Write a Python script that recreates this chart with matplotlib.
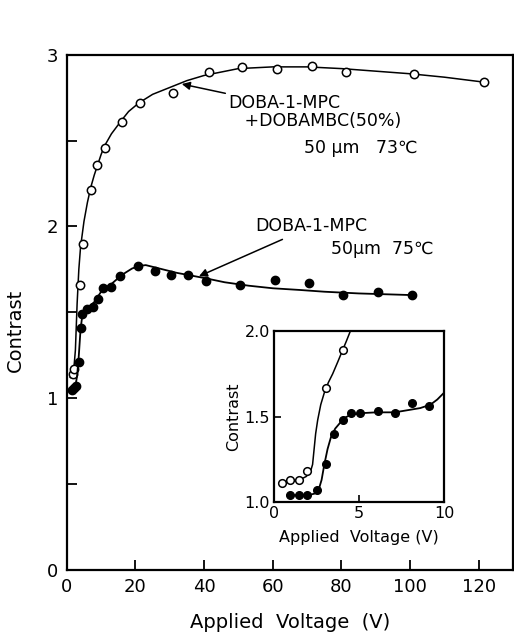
"""Contrast vs applied voltage for DOBA-1-MPC and its DOBAMBC mixture, with low-voltage inset."""
import matplotlib
matplotlib.use("Agg")
import matplotlib.pyplot as plt

# main panel, open circles: DOBA-1-MPC + DOBAMBC (50%), 50 um, 73 C
mix_v = [1.7, 2.1, 3.8, 4.6, 6.9, 8.9, 11.2, 16.2, 21.3, 30.9, 41.3, 51.1, 61.3, 71.5, 81.4, 101.3, 121.7]
mix_c = [1.14, 1.17, 1.66, 1.90, 2.21, 2.36, 2.46, 2.61, 2.72, 2.78, 2.90, 2.93, 2.92, 2.935, 2.90, 2.89, 2.84]
# hand-drawn trend line through them
mix_fit_v = [1.0, 2.0, 2.5, 3.0, 3.5, 4.0, 5.0, 6.0, 7.0, 8.0, 9.0, 10.0, 11.0, 13.0, 16.0, 18.0, 21.0,
             25.0, 30.0, 35.0, 40.0, 45.0, 50.0, 60.0, 70.0, 80.0, 90.0, 100.0, 110.0, 122.0]
mix_fit_c = [1.12, 1.16, 1.28, 1.55, 1.75, 1.88, 2.03, 2.14, 2.23, 2.30, 2.36, 2.42, 2.47, 2.54, 2.62, 2.67, 2.72,
             2.77, 2.81, 2.85, 2.88, 2.90, 2.92, 2.93, 2.93, 2.92, 2.905, 2.89, 2.87, 2.84]

# main panel, filled circles: DOBA-1-MPC, 50 um, 75 C
mpc_v = [1.4, 2.0, 2.8, 3.5, 4.1, 4.5, 5.9, 7.7, 9.1, 10.6, 12.8, 15.6, 20.6, 25.6, 30.5, 35.3, 40.5, 50.6, 60.8, 70.5, 80.4, 90.7, 100.6]
mpc_c = [1.05, 1.06, 1.07, 1.21, 1.41, 1.49, 1.52, 1.53, 1.58, 1.64, 1.65, 1.71, 1.77, 1.74, 1.72, 1.72, 1.68, 1.66, 1.69, 1.67, 1.60, 1.62, 1.60]
mpc_fit_v = [1.2, 2.5, 3.0, 3.5, 4.0, 4.5, 5.0, 6.0, 7.0, 8.0, 9.0, 10.0, 11.5, 13.0, 15.0, 17.0, 19.0, 21.0, 23.0,
             25.0, 28.0, 32.0, 36.0, 40.0, 46.0, 53.0, 60.0, 68.0, 75.0, 85.0, 93.0, 101.0]
mpc_fit_c = [1.05, 1.07, 1.13, 1.25, 1.40, 1.48, 1.51, 1.53, 1.54, 1.56, 1.59, 1.62, 1.645, 1.665, 1.70, 1.73, 1.755, 1.77, 1.775,
             1.765, 1.75, 1.73, 1.715, 1.70, 1.675, 1.655, 1.64, 1.63, 1.62, 1.61, 1.605, 1.60]

# inset (0-10 V)
in_mix_v = [0.45, 0.96, 1.5, 1.94, 3.06, 4.04]
in_mix_c = [1.11, 1.13, 1.13, 1.18, 1.67, 1.89]
in_mix_fit_v = [0.4, 1.0, 1.5, 1.9, 2.15, 2.27, 2.35, 2.45, 2.57, 2.75, 2.96, 3.2, 3.45, 3.75, 4.04, 4.25, 4.49]
in_mix_fit_c = [1.11, 1.12, 1.13, 1.15, 1.18, 1.22, 1.30, 1.40, 1.48, 1.57, 1.64, 1.70, 1.75, 1.82, 1.89, 1.94, 2.0]

in_mpc_v = [0.96, 1.5, 1.96, 2.53, 3.06, 3.55, 4.04, 4.53, 5.08, 6.1, 7.1, 8.1, 9.14]
in_mpc_c = [1.04, 1.04, 1.04, 1.07, 1.22, 1.40, 1.48, 1.52, 1.52, 1.53, 1.52, 1.58, 1.56]
in_mpc_fit_v = [0.8, 2.0, 2.4, 2.65, 2.8, 2.96, 3.15, 3.35, 3.6, 3.94, 4.2, 4.5, 5.1, 6.0, 7.1, 8.0, 8.6, 9.2, 9.6, 10.0]
in_mpc_fit_c = [1.04, 1.04, 1.05, 1.08, 1.13, 1.22, 1.31, 1.38, 1.43, 1.47, 1.495, 1.51, 1.52, 1.525, 1.525, 1.54, 1.55, 1.57, 1.60, 1.64]

plt.rcParams["font.family"] = ["DejaVu Sans"]

fig = plt.figure(figsize=(5.14, 6.38), dpi=100)
ax = fig.add_axes([0.130, 0.107, 0.868, 0.807])

ax.plot(mix_fit_v, mix_fit_c, color="black", lw=1.1)
ax.plot(mix_v, mix_c, "o", ms=6, mfc="white", mec="black", mew=1.1)
ax.plot(mpc_fit_v, mpc_fit_c, color="black", lw=1.3)
ax.plot(mpc_v, mpc_c, "o", ms=6, color="black")

ax.set_xlim(0, 130)
ax.set_ylim(0, 3)
ax.set_xticks([0, 20, 40, 60, 80, 100, 120])
ax.set_yticks([0, 1, 2, 3])
ax.set_yticks([0.5, 1.5, 2.5], minor=True)
ax.tick_params(direction="in", length=7, width=1.3, labelsize=13, pad=6)
ax.tick_params(which="minor", direction="in", length=7, width=1.3)
for s in ax.spines.values():
    s.set_linewidth(1.6)
ax.set_xlabel("Applied  Voltage  (V)", fontsize=14, labelpad=12)
ax.set_ylabel("Contrast", fontsize=14)
ax.yaxis.set_label_coords(-0.095, 0.465)

ax.annotate("DOBA-1-MPC\n   +DOBAMBC(50%)", xy=(33.5, 2.83), xytext=(47, 2.665),
            fontsize=12.5, va="center", linespacing=1.0,
            arrowprops=dict(arrowstyle="-|>", color="black", lw=1.1, shrinkA=0, shrinkB=0, mutation_scale=12))
ax.text(69, 2.46, "50 µm   73℃", fontsize=12.5, va="center")
ax.annotate("DOBA-1-MPC", xy=(38.5, 1.71), xytext=(55, 2.0),
            fontsize=12.5, va="center",
            arrowprops=dict(arrowstyle="-|>", color="black", lw=1.1, shrinkA=2, shrinkB=0, mutation_scale=12))
ax.text(77, 1.87, "50µm  75℃", fontsize=12.5, va="center")

# inset
ins = fig.add_axes([0.533, 0.213, 0.331, 0.268])
ins.plot(in_mix_fit_v, in_mix_fit_c, color="black", lw=1.1)
ins.plot(in_mix_v, in_mix_c, "o", ms=5.5, mfc="white", mec="black", mew=1.1)
ins.plot(in_mpc_fit_v, in_mpc_fit_c, color="black", lw=1.3)
ins.plot(in_mpc_v, in_mpc_c, "o", ms=5.5, color="black")
ins.set_xlim(0, 10)
ins.set_ylim(1.0, 2.0)
ins.set_xticks([0, 5, 10])
ins.set_yticks([1.0, 1.5, 2.0])
ins.set_yticklabels(["1.0", "1.5", "2.0"])
ins.tick_params(direction="in", length=5, width=1.2, labelsize=11.5, pad=3)
for s in ins.spines.values():
    s.set_linewidth(1.6)
ins.set_xlabel("Applied  Voltage (V)", fontsize=11.5, labelpad=6)
ins.set_ylabel("Contrast", fontsize=11.5, labelpad=2)

fig.savefig("out.png", dpi=100)
